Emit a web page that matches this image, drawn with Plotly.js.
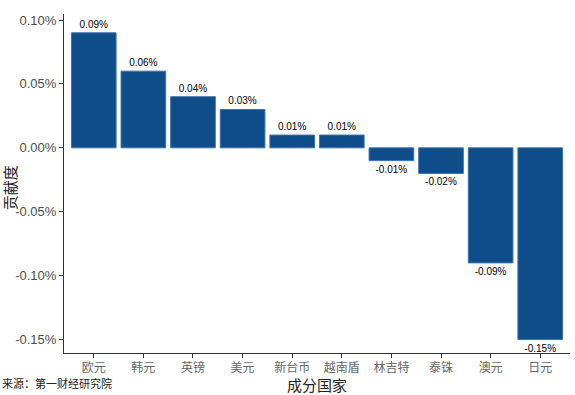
<!DOCTYPE html>
<html><head><meta charset="utf-8">
<script src="https://cdn.plot.ly/plotly-3.0.1.min.js"></script>
<style>html,body{margin:0;padding:0;background:#fff}</style>
</head><body>
<div id="chart" style="width:575px;height:395px"></div>
<script>
const categories = ["欧元","韩元","英镑","美元","新台币","越南盾","林吉特","泰铢","澳元","日元"];
const values = [0.0009,0.0006,0.0004,0.0003,0.0001,0.0001,-0.0001,-0.0002,-0.0009,-0.0015];
const labels = ["0.09%","0.06%","0.04%","0.03%","0.01%","0.01%","-0.01%","-0.02%","-0.09%","-0.15%"];
const yTicks = [0.001,0.0005,0,-0.0005,-0.001,-0.0015];
const yTickText = ["0.10%","0.05%","0.00%","-0.05%","-0.10%","-0.15%"];
const cjk = '"Noto Sans CJK SC", sans-serif';
Plotly.newPlot('chart',[{
  type:'bar', x:categories, y:values, text:labels, textposition:'outside',
  textfont:{family:'Liberation Sans, Arial, sans-serif', size:10, color:'#000'},
  marker:{color:'#0E4C8A', line:{color:'#3A73AC', width:1}},
  cliponaxis:false, constraintext:'none', hoverinfo:'none'
}],{
  width:575, height:395, margin:{l:64,r:5,t:14,b:42},
  paper_bgcolor:'#fff', plot_bgcolor:'#fff', bargap:0.1, showlegend:false,
  xaxis:{range:[-0.6,9.6], showline:true, linecolor:'#333', linewidth:1, ticks:'outside', ticklen:4, tickcolor:'#333',
    tickfont:{family:cjk, size:12, color:'#666'}, showgrid:false, zeroline:false, fixedrange:true},
  yaxis:{range:[-0.001605,0.001047], tickvals:yTicks, ticktext:yTickText, showline:true, linecolor:'#333', linewidth:1,
    ticks:'outside', ticklen:4, tickcolor:'#333', tickfont:{family:'Liberation Sans, Arial, sans-serif', size:13, color:'#4d4d4d'},
    showgrid:false, zeroline:false},
  annotations:[
    {text:'贡献度', xref:'paper', yref:'paper', x:-0.106, y:0.487, xanchor:'center', yanchor:'middle', showarrow:false, textangle:-90,
      font:{family:cjk, size:15, color:'#222'}},
    {text:'成分国家', xref:'paper', yref:'paper', x:0.5, y:0, yanchor:'middle', yshift:-31, showarrow:false,
      font:{family:cjk, size:15, color:'#222'}},
    {text:'来源：第一财经研究院', xref:'paper', yref:'paper', x:0, y:0, xanchor:'left', yanchor:'middle', yshift:-30, showarrow:false,
      font:{family:cjk, size:11, color:'#222'}, xshift:-64}
  ]
},{displayModeBar:false, staticPlot:true});
</script>
</body></html>
